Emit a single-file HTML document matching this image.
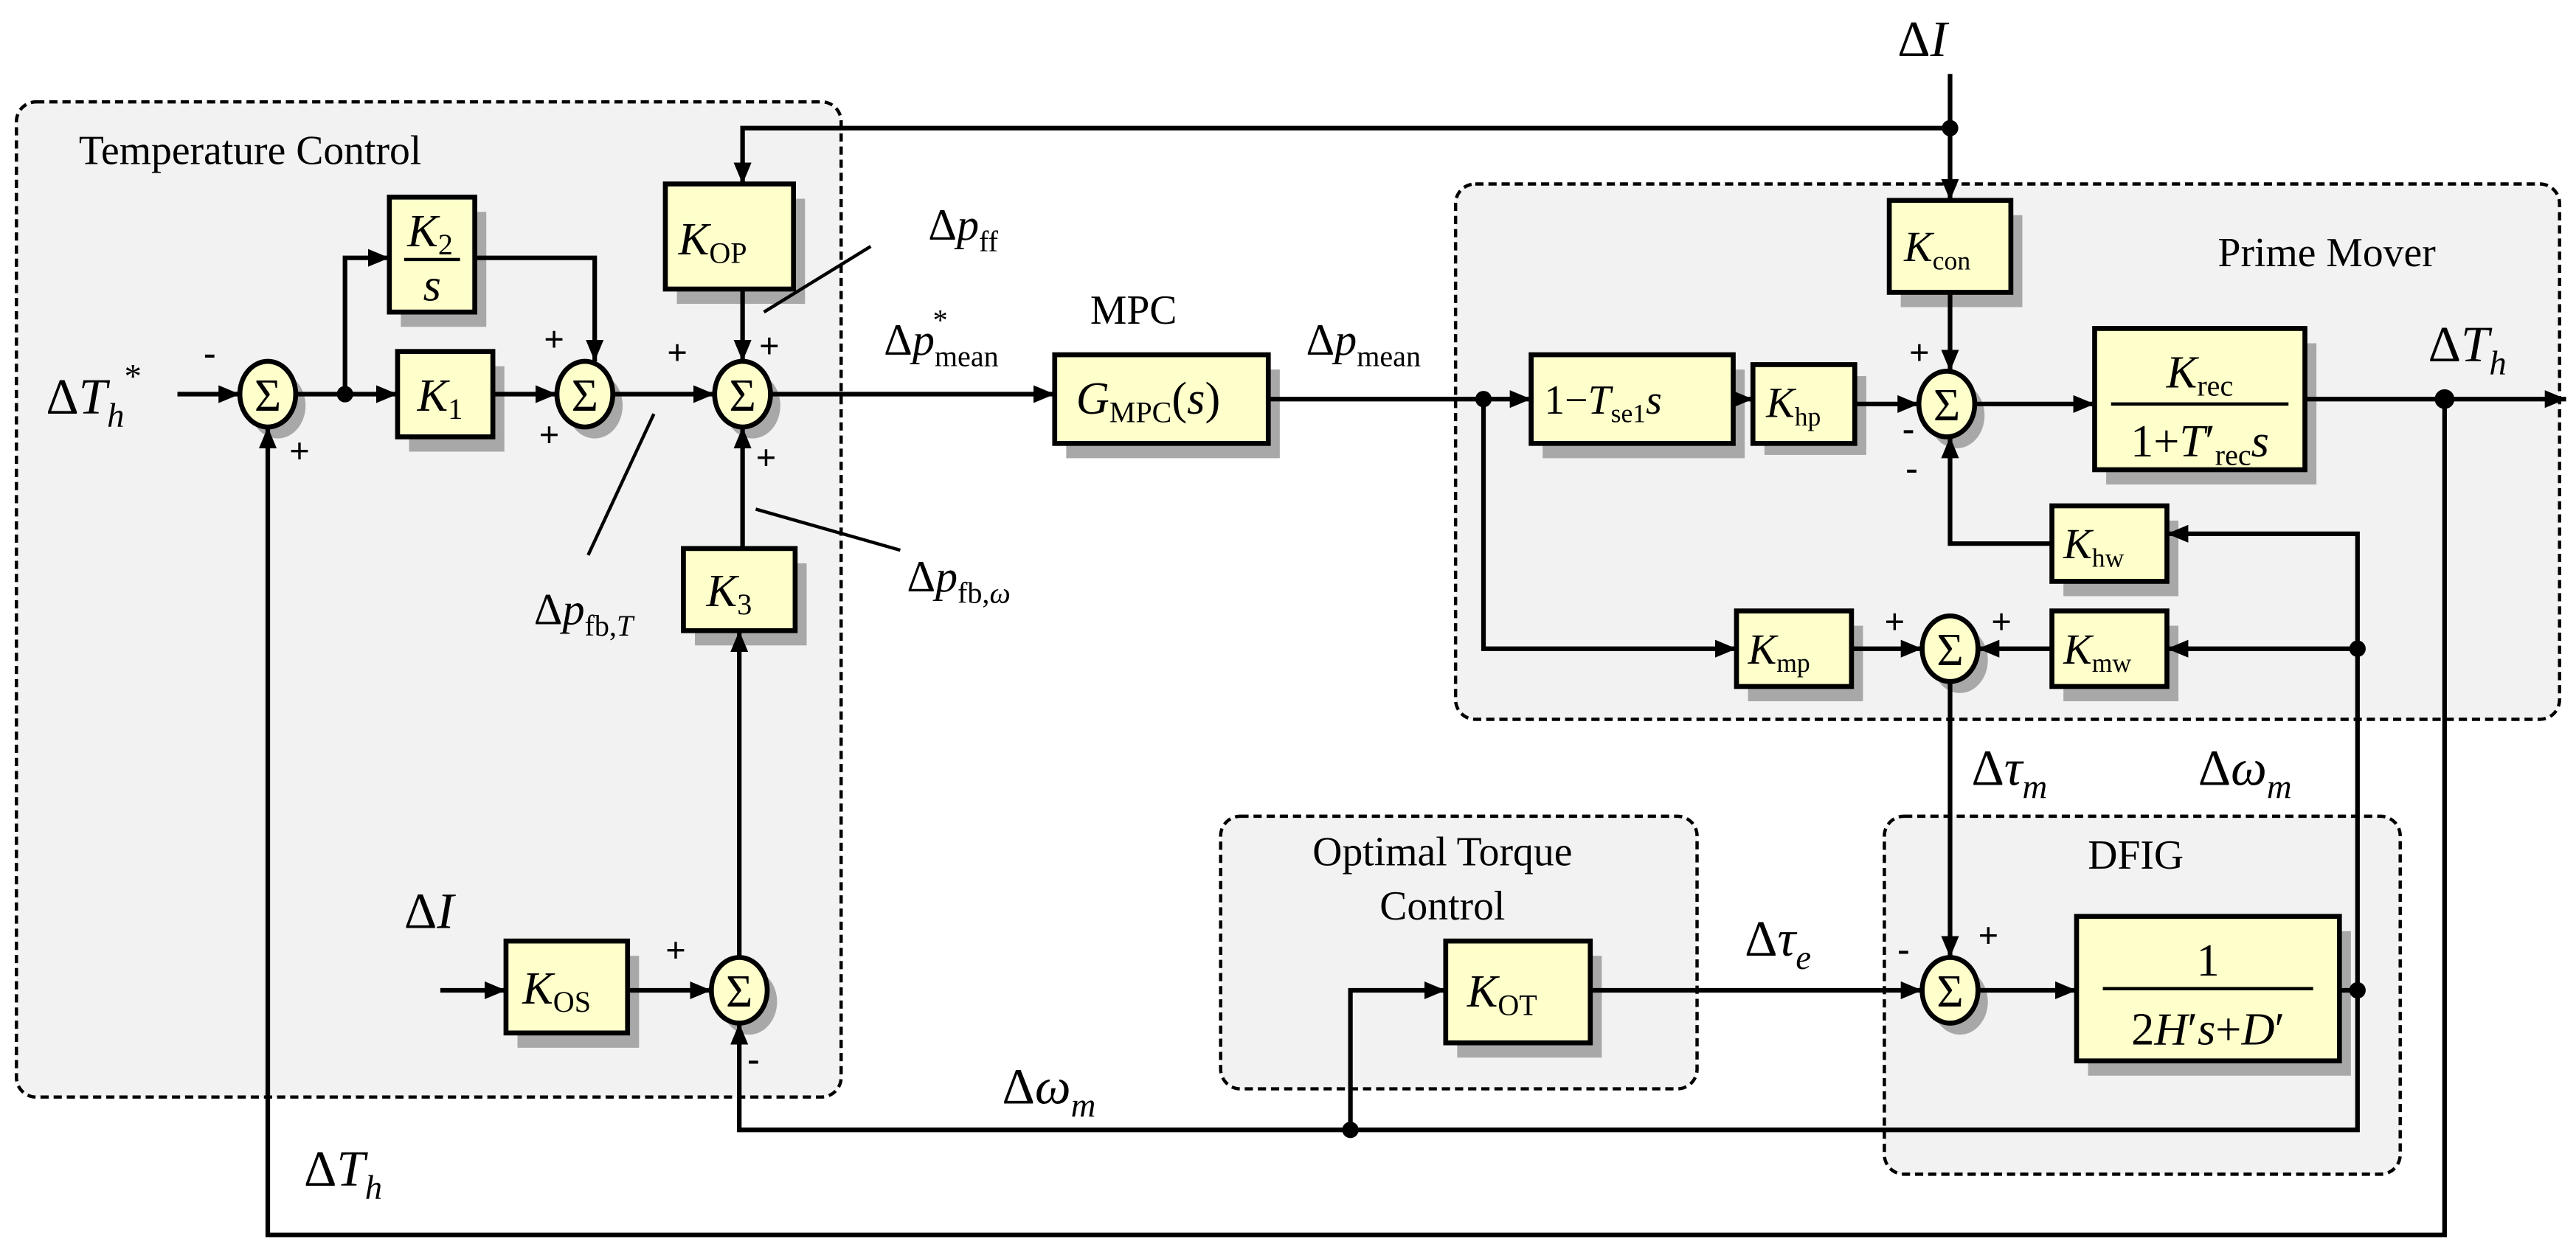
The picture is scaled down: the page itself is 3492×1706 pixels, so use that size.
<!DOCTYPE html>
<html><head><meta charset="utf-8"><style>
html,body{margin:0;padding:0;background:#fff}
svg{display:block}
text{font-family:"Liberation Serif",serif;fill:#000}
.i{font-style:italic}
</style></head><body>
<svg width="3492" height="1706" viewBox="0 0 1568 766" xmlns="http://www.w3.org/2000/svg">
<defs>
<marker id="b" viewBox="0 0 12 10" refX="12" refY="5" markerWidth="13" markerHeight="11" orient="auto" markerUnits="userSpaceOnUse"><path d="M0,0 L12,5 L0,10 z"/></marker>
</defs>
<g fill="#f2f2f2" stroke="#000" stroke-width="2" stroke-dasharray="5,3">
<rect x="10" y="62" width="502" height="606" rx="12"/>
<rect x="886" y="112" width="672" height="326" rx="12"/>
<rect x="743" y="497" width="290" height="166" rx="12"/>
<rect x="1147" y="497" width="314" height="218" rx="12"/>
</g>
<text x="48" y="100" font-size="25">Temperature Control</text>
<text x="1350" y="162" font-size="25">Prime Mover</text>
<text x="878" y="527" font-size="25" text-anchor="middle">Optimal Torque</text>
<text x="878" y="560" font-size="25" text-anchor="middle">Control</text>
<text x="1300" y="529" font-size="25" text-anchor="middle">DFIG</text>
<text x="690" y="197" font-size="25" text-anchor="middle">MPC</text>
<g fill="#a8a8a8">
<rect x="244" y="129" width="52" height="70"/>
<rect x="249" y="223" width="58" height="52"/>
<rect x="412" y="121" width="78" height="64"/>
<rect x="423" y="343" width="68" height="50"/>
<rect x="315" y="582" width="74" height="56"/>
<rect x="649" y="225" width="130" height="54"/>
<rect x="939" y="225" width="123" height="54"/>
<rect x="1074" y="229" width="62" height="48"/>
<rect x="1157" y="131" width="74" height="56"/>
<rect x="1282" y="209" width="128" height="86"/>
<rect x="1256" y="317" width="70" height="46"/>
<rect x="1256" y="381" width="70" height="46"/>
<rect x="1064" y="381" width="70" height="46"/>
<rect x="887" y="582" width="88" height="62"/>
<rect x="1271" y="567" width="160" height="88"/>
<ellipse cx="169" cy="247" rx="17" ry="20"/>
<ellipse cx="362" cy="247" rx="17" ry="20"/>
<ellipse cx="458" cy="247" rx="17" ry="20"/>
<ellipse cx="456" cy="610" rx="17" ry="20"/>
<ellipse cx="1191" cy="253" rx="17" ry="20"/>
<ellipse cx="1193" cy="402" rx="17" ry="20"/>
<ellipse cx="1193" cy="610" rx="17" ry="20"/>
</g>
<g stroke="#000" stroke-width="2.8" fill="none" marker-end="url(#b)">
<path d="M108,240 H146"/>
<path d="M180,240 H242"/>
<path d="M210,240 V157 H237"/>
<path d="M289,157 H362 V220"/>
<path d="M300,240 H339"/>
<path d="M373,240 H435"/>
<path d="M452,176 V220"/>
<path d="M469,240 H642"/>
<path d="M452,334 V260"/>
<path d="M450,583 V384"/>
<path d="M268,603 H308"/>
<path d="M382,603 H433"/>
<path d="M1187,78 H452 V112"/>
<path d="M1187,45 V122"/>
<path d="M1187,178 V226"/>
<path d="M772,243 H932"/>
<path d="M903,243 V395 H1057"/>
<path d="M1055,243 H1067"/>
<path d="M1129,246 H1168"/>
<path d="M1202,246 H1275"/>
<path d="M1403,243 H1562"/>
<path d="M1488,243 V752 H163 V260"/>
<path d="M1435,603 V325 H1319"/>
<path d="M1435,395 H1319"/>
<path d="M1249,331 H1187 V266"/>
<path d="M1249,395 H1204"/>
<path d="M1127,395 H1170"/>
<path d="M1187,415 V583"/>
<path d="M1204,603 H1264"/>
<path d="M1424,603 H1435 V688 H450 V623"/>
<path d="M822,688 V603 H880"/>
<path d="M968,603 H1170"/>
</g>
<g fill="#000">
<circle cx="210" cy="240" r="5"/><circle cx="1187" cy="78" r="5"/>
<circle cx="903" cy="243" r="5"/><circle cx="1488" cy="243" r="6"/>
<circle cx="1435" cy="603" r="5"/><circle cx="1435" cy="395" r="5"/>
<circle cx="822" cy="688" r="5"/>
</g>
<g stroke="#000" stroke-width="2">
<path d="M465,190 L530,150"/><path d="M398,252 L358,338"/><path d="M460,310 L548,335"/>
</g>
<g fill="#ffffcc" stroke="#000" stroke-width="3">
<rect x="237" y="120" width="52" height="70"/>
<rect x="242" y="214" width="58" height="52"/>
<rect x="405" y="112" width="78" height="64"/>
<rect x="416" y="334" width="68" height="50"/>
<rect x="308" y="573" width="74" height="56"/>
<rect x="642" y="216" width="130" height="54"/>
<rect x="932" y="216" width="123" height="54"/>
<rect x="1067" y="222" width="62" height="48"/>
<rect x="1150" y="122" width="74" height="56"/>
<rect x="1275" y="200" width="128" height="86"/>
<rect x="1249" y="308" width="70" height="46"/>
<rect x="1249" y="372" width="70" height="46"/>
<rect x="1057" y="372" width="70" height="46"/>
<rect x="880" y="573" width="88" height="62"/>
<rect x="1264" y="558" width="160" height="88"/>
<ellipse cx="163" cy="240" rx="17" ry="20"/>
<ellipse cx="356" cy="240" rx="17" ry="20"/>
<ellipse cx="452" cy="240" rx="17" ry="20"/>
<ellipse cx="450" cy="603" rx="17" ry="20"/>
<ellipse cx="1185" cy="246" rx="17" ry="20"/>
<ellipse cx="1187" cy="395" rx="17" ry="20"/>
<ellipse cx="1187" cy="603" rx="17" ry="20"/>
</g>
<g font-size="28" text-anchor="middle">
<text x="163" y="250">Σ</text><text x="356" y="250">Σ</text><text x="452" y="250">Σ</text>
<text x="450" y="613">Σ</text><text x="1185" y="256">Σ</text><text x="1187" y="405">Σ</text><text x="1187" y="613">Σ</text>
</g>
<g font-size="28">
<text x="248" y="150" class="i">K<tspan font-size="18" font-style="normal" dy="5">2</tspan></text>
<path d="M246,158 H280" stroke="#000" stroke-width="2"/>
<text x="263" y="183" class="i" text-anchor="middle">s</text>
<text x="254" y="250" class="i">K<tspan font-size="18" font-style="normal" dy="5">1</tspan></text>
<text x="413" y="155" class="i">K<tspan font-size="18" font-style="normal" dy="5">OP</tspan></text>
<text x="430" y="369" class="i">K<tspan font-size="18" font-style="normal" dy="5">3</tspan></text>
<text x="318" y="611" class="i">K<tspan font-size="18" font-style="normal" dy="5">OS</tspan></text>
<text x="655" y="252" class="i">G<tspan font-size="18" font-style="normal" dy="5">MPC</tspan><tspan dy="-5" font-style="normal">(</tspan>s<tspan font-style="normal">)</tspan></text>
<text x="940" y="252" font-size="25">1−<tspan class="i">T</tspan><tspan font-size="16" dy="5">se1</tspan><tspan dy="-5" class="i">s</tspan></text>
<text x="1075" y="254" font-size="26" class="i">K<tspan font-size="16" font-style="normal" dy="5">hp</tspan></text>
<text x="1159" y="159" font-size="26" class="i">K<tspan font-size="16" font-style="normal" dy="5">con</tspan></text>
<text x="1339" y="236" class="i" text-anchor="middle">K<tspan font-size="18" font-style="normal" dy="5">rec</tspan></text>
<path d="M1285,246 H1393" stroke="#000" stroke-width="2"/>
<text x="1339" y="278" text-anchor="middle">1+<tspan class="i">T</tspan>′<tspan font-size="18" dy="5">rec</tspan><tspan dy="-5" class="i">s</tspan></text>
<text x="1256" y="340" font-size="26" class="i">K<tspan font-size="16" font-style="normal" dy="5">hw</tspan></text>
<text x="1256" y="404" font-size="26" class="i">K<tspan font-size="16" font-style="normal" dy="5">mw</tspan></text>
<text x="1064" y="404" font-size="26" class="i">K<tspan font-size="16" font-style="normal" dy="5">mp</tspan></text>
<text x="893" y="613" class="i">K<tspan font-size="18" font-style="normal" dy="5">OT</tspan></text>
<text x="1344" y="594" text-anchor="middle">1</text>
<path d="M1280,602 H1408" stroke="#000" stroke-width="2"/>
<text x="1344" y="636" text-anchor="middle">2<tspan class="i">H</tspan>′<tspan class="i">s</tspan>+<tspan class="i">D</tspan>′</text>
</g>
<g font-size="31">
<text x="28" y="252">Δ<tspan class="i">T</tspan><tspan class="i" font-size="21" dy="8">h</tspan><tspan font-size="21" dy="-24">*</tspan></text>
<text x="1155" y="34">Δ<tspan class="i">I</tspan></text>
<text x="246" y="565">Δ<tspan class="i">I</tspan></text>
<text x="1478" y="220">Δ<tspan class="i">T</tspan><tspan class="i" font-size="21" dy="8">h</tspan></text>
<text x="185" y="722">Δ<tspan class="i">T</tspan><tspan class="i" font-size="21" dy="8">h</tspan></text>
<text x="610" y="672">Δ<tspan class="i">ω</tspan><tspan class="i" font-size="21" dy="8">m</tspan></text>
<text x="1338" y="478">Δ<tspan class="i">ω</tspan><tspan class="i" font-size="21" dy="8">m</tspan></text>
<text x="1200" y="478">Δ<tspan class="i">τ</tspan><tspan class="i" font-size="21" dy="8">m</tspan></text>
<text x="1062" y="582">Δ<tspan class="i">τ</tspan><tspan class="i" font-size="21" dy="8">e</tspan></text>
</g>
<g font-size="27">
<text x="538" y="216">Δ<tspan class="i">p</tspan><tspan font-size="18" dy="7">mean</tspan><tspan font-size="18" dx="-40" dy="-22">*</tspan></text>
<text x="795" y="216">Δ<tspan class="i">p</tspan><tspan font-size="18" dy="7">mean</tspan></text>
<text x="565" y="146">Δ<tspan class="i">p</tspan><tspan font-size="18" dy="7">ff</tspan></text>
<text x="325" y="380">Δ<tspan class="i">p</tspan><tspan font-size="18" dy="7">fb,<tspan class="i">T</tspan></tspan></text>
<text x="552" y="360">Δ<tspan class="i">p</tspan><tspan font-size="18" dy="7">fb,<tspan class="i">ω</tspan></tspan></text>
</g>
<g font-size="22" font-family="Liberation Sans" font-weight="bold">
<text x="124" y="222">-</text><text x="176" y="282">+</text>
<text x="331" y="214">+</text><text x="328" y="272">+</text>
<text x="406" y="222">+</text><text x="462" y="218">+</text><text x="460" y="286">+</text>
<text x="405" y="586">+</text><text x="455" y="652">-</text>
<text x="1162" y="222">+</text><text x="1158" y="268">-</text><text x="1160" y="292">-</text>
<text x="1147" y="386">+</text><text x="1212" y="386">+</text>
<text x="1155" y="585">-</text><text x="1204" y="577">+</text>
</g>
</svg>
</body></html>
